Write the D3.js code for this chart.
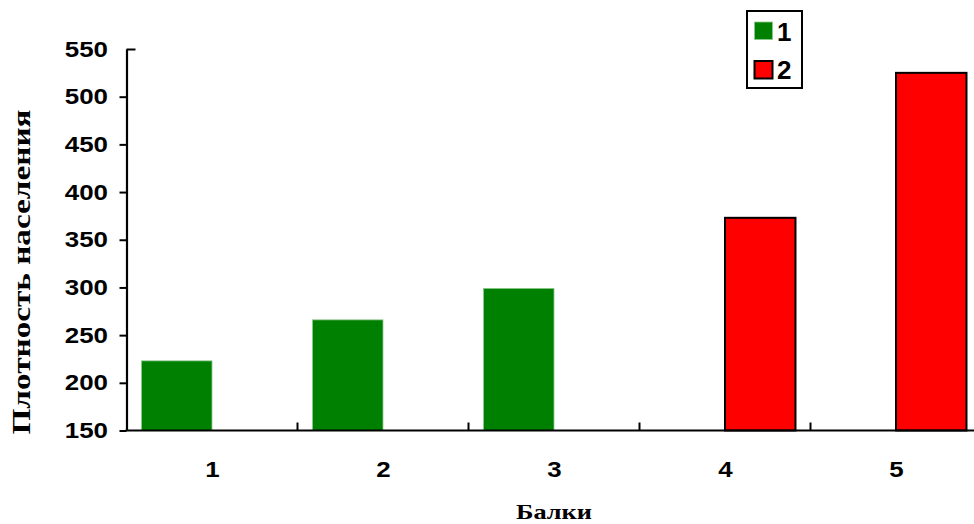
<!DOCTYPE html>
<html>
<head>
<meta charset="utf-8">
<script src="https://cdn.jsdelivr.net/npm/d3@7"></script>
<style>
html,body{margin:0;padding:0;background:#fff;}
svg{display:block;}
</style>
</head>
<body>
<svg id="chart" width="974" height="524"></svg>
<script>
// ---- data ----
const categories = ["1", "2", "3", "4", "5"];
const seriesNames = ["1", "2"];
const series1 = [223, 266, 299, null, null];
const series2 = [null, null, null, 373, 525];
const yTicks = [150, 200, 250, 300, 350, 400, 450, 500, 550];
const xTitle = "Балки";
const yTitle = "Плотность населения";
const colors = ["#008000", "#ff0000"];

const svg = d3.select("#chart");
const mLeft = 126.5, mTop = 49, mBottom = 430.5;
const step = 171;

const x = d3.scaleBand().domain(categories).range([mLeft, mLeft + step * categories.length]).padding(0);
const x1 = d3.scaleBand().domain(seriesNames).range([0, x.bandwidth()]).paddingInner(0).paddingOuter(0.213);
const y = d3.scaleLinear().domain([150, 550]).range([mBottom, mTop]);

const rows = categories.map((c, i) => ({cat: c, vals: [series1[i], series2[i]]}));

// bars
const g = svg.append("g");
rows.forEach(r => {
  r.vals.forEach((v, k) => {
    if (v == null) return;
    g.append("rect")
      .attr("x", x(r.cat) + x1(seriesNames[k]))
      .attr("y", y(v))
      .attr("width", x1.bandwidth())
      .attr("height", y(150) - y(v))
      .attr("fill", colors[k])
      .attr("stroke", k === 0 ? "#8cc88c" : "#000")
      .attr("stroke-width", k === 0 ? 0.8 : 2);
  });
});

// y axis
const yAxis = svg.append("g").attr("transform", `translate(${mLeft},0)`)
  .call(d3.axisLeft(y).tickValues(yTicks).tickSize(7).tickPadding(11.5).tickSizeOuter(0));
yAxis.select(".domain").attr("stroke", "#000").attr("stroke-width", 2.2);
yAxis.selectAll(".tick line").attr("stroke", "#000").attr("stroke-width", 2);
yAxis.selectAll(".tick").filter(d => d === 550).select("line").attr("x2", 9);
yAxis.selectAll(".tick text")
  .attr("font-family", "'Liberation Sans', Arial, sans-serif")
  .attr("font-weight", "bold").attr("font-size", 22).attr("fill", "#000")
  .attr("textLength", d => String(d).length * 14.4).attr("lengthAdjust", "spacingAndGlyphs");

// x axis
const xCenter = d3.scalePoint().domain(categories).range([x(categories[0]) + step / 2, x(categories[categories.length - 1]) + step / 2]);
const xAxis = svg.append("g").attr("transform", `translate(0,${mBottom})`)
  .call(d3.axisBottom(xCenter).tickSize(0).tickPadding(31).tickSizeOuter(0));
xAxis.select(".domain").remove();
xAxis.selectAll(".tick text")
  .attr("font-family", "'Liberation Sans', Arial, sans-serif")
  .attr("font-weight", "bold").attr("font-size", 22).attr("fill", "#000")
  .attr("textLength", 14.4).attr("lengthAdjust", "spacingAndGlyphs");
svg.append("line").attr("x1", mLeft - 1).attr("x2", 974).attr("y1", mBottom).attr("y2", mBottom)
  .attr("stroke", "#000").attr("stroke-width", 2.2);
svg.append("g").selectAll("line").data(categories.slice(1)).join("line")
  .attr("x1", d => x(d)).attr("x2", d => x(d))
  .attr("y1", mBottom).attr("y2", mBottom - 8)
  .attr("stroke", "#000").attr("stroke-width", 2);

// titles
svg.append("text").text(xTitle)
  .attr("x", mLeft + step * 2.5).attr("y", 519).attr("text-anchor", "middle")
  .attr("font-family", "'Liberation Serif', 'Times New Roman', serif")
  .attr("font-weight", "bold").attr("font-size", 22)
  .attr("textLength", 76).attr("lengthAdjust", "spacingAndGlyphs");
svg.append("text").text(yTitle)
  .attr("transform", "translate(30,272) rotate(-90)").attr("text-anchor", "middle")
  .attr("font-family", "'Liberation Serif', 'Times New Roman', serif")
  .attr("font-weight", "bold").attr("font-size", 25)
  .attr("textLength", 325).attr("lengthAdjust", "spacingAndGlyphs");

// legend
const lg = svg.append("g");
lg.append("rect").attr("x", 747).attr("y", 11).attr("width", 55).attr("height", 77)
  .attr("fill", "#fff").attr("stroke", "#000").attr("stroke-width", 2);
seriesNames.forEach((s, k) => {
  lg.append("rect").attr("x", 754.5).attr("y", 22 + k * 39).attr("width", 18).attr("height", 17.5)
    .attr("fill", colors[k]).attr("stroke", k === 0 ? "#8cc88c" : "#000").attr("stroke-width", k === 0 ? 0.8 : 2);
  lg.append("text").text(s).attr("x", 777).attr("y", 40.5 + k * 38.5)
    .attr("font-family", "'Liberation Sans', Arial, sans-serif")
    .attr("font-weight", "bold").attr("font-size", 26);
});
</script>
</body>
</html>
